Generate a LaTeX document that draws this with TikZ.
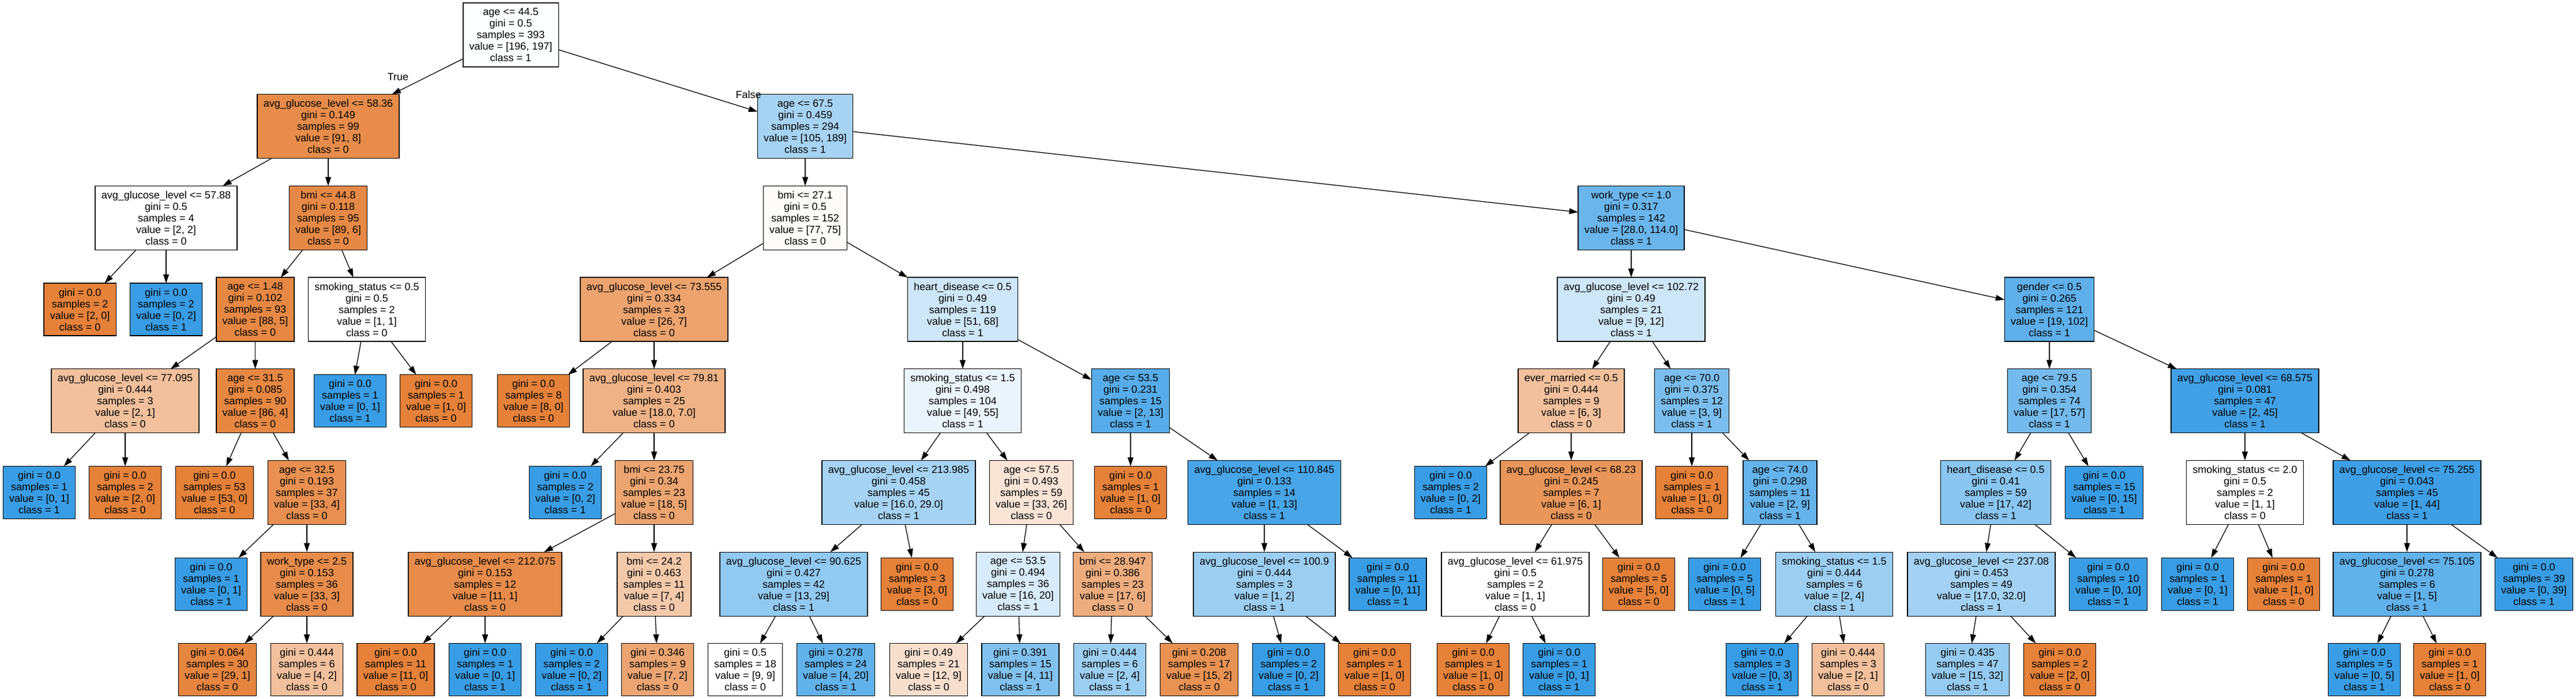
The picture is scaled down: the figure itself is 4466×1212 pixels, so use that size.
\documentclass[tikz,border=0pt]{standalone}
\usepackage{fontspec}
\setmainfont{Liberation Sans}
\usetikzlibrary{arrows.meta}
\definecolor{cz}{RGB}{229,129,57}
\definecolor{co}{RGB}{57,157,229}
\newcommand\AGL{avg\_glucose\_level}
\newcommand\splitT[5]{#1\\gini = #2\\samples = #3\\value = [#4]\\class = #5}
\newcommand\leafT[4]{gini = #1\\samples = #2\\value = [#3]\\class = #4}
\begin{document}
\begin{tikzpicture}[x=1pt,y=-1pt,
  nd/.style={draw=black, line width=1.3pt, rectangle, align=center, inner xsep=10.85pt, inner ysep=0pt, outer sep=0pt, font=\fontsize{18}{20}\selectfont, execute at begin node={\rule{0pt}{16.5pt}}},
  inode/.style={nd, minimum height=111pt},
  lnode/.style={nd, minimum height=91pt},
  edge/.style={-{Triangle[length=15.5pt,width=10pt]}, line width=1.3pt},
  elabel/.style={font=\fontsize{18}{20}\selectfont, inner sep=0pt}]
\useasboundingbox[fill=white] (0,0) rectangle (4466,1212);
% level 0
\node[inode, fill=co!0.5!white] (r) at (885.5,60.5) {\splitT{age <= 44.5}{0.5}{393}{196, 197}{1}};
% level 1
\node[inode, fill=cz!91.2!white] (a) at (569,219.2) {\splitT{\AGL{} <= 58.36}{0.149}{99}{91, 8}{0}};
\node[inode, fill=co!44.4!white] (b) at (1396,219.2) {\splitT{age <= 67.5}{0.459}{294}{105, 189}{1}};
% level 2
\node[inode, fill=white] (a1) at (288,377.9) {\splitT{\AGL{} <= 57.88}{0.5}{4}{2, 2}{0}};
\node[inode, fill=cz!93.3!white] (a2) at (569,377.9) {\splitT{bmi <= 44.8}{0.118}{95}{89, 6}{0}};
\node[inode, fill=cz!2.6!white] (b1) at (1396,377.9) {\splitT{bmi <= 27.1}{0.5}{152}{77, 75}{0}};
\node[inode, fill=co!75.4!white] (b2) at (2828,377.9) {\splitT{work\_type <= 1.0}{0.317}{142}{28.0, 114.0}{1}};
% level 3
\node[lnode, fill=cz] (a11) at (138.6,536.6) {\leafT{0.0}{2}{2, 0}{0}};
\node[lnode, fill=co] (a12) at (288,536.6) {\leafT{0.0}{2}{0, 2}{1}};
\node[inode, fill=cz!94.3!white] (a21) at (442.5,536.6) {\splitT{age <= 1.48}{0.102}{93}{88, 5}{0}};
\node[inode, fill=white] (a22) at (636,536.6) {\splitT{smoking\_status <= 0.5}{0.5}{2}{1, 1}{0}};
\node[inode, fill=cz!73.1!white] (b11) at (1134,536.6) {\splitT{\AGL{} <= 73.555}{0.334}{33}{26, 7}{0}};
\node[inode, fill=co!25!white] (b12) at (1669,536.6) {\splitT{heart\_disease <= 0.5}{0.49}{119}{51, 68}{1}};
\node[inode, fill=co!25!white] (b21) at (2828,536.6) {\splitT{\AGL{} <= 102.72}{0.49}{21}{9, 12}{1}};
\node[inode, fill=co!81.4!white] (b22) at (3553,536.6) {\splitT{gender <= 0.5}{0.265}{121}{19, 102}{1}};
% level 4
\node[inode, fill=cz!50!white] (a211) at (217,695.3) {\splitT{\AGL{} <= 77.095}{0.444}{3}{2, 1}{0}};
\node[inode, fill=cz!95.3!white] (a212) at (442.5,695.3) {\splitT{age <= 31.5}{0.085}{90}{86, 4}{0}};
\node[lnode, fill=co] (a221) at (607,695.3) {\leafT{0.0}{1}{0, 1}{1}};
\node[lnode, fill=cz] (a222) at (756,695.3) {\leafT{0.0}{1}{1, 0}{0}};
\node[lnode, fill=cz] (b111) at (925,695.3) {\leafT{0.0}{8}{8, 0}{0}};
\node[inode, fill=cz!61.1!white] (b112) at (1134,695.3) {\splitT{\AGL{} <= 79.81}{0.403}{25}{18.0, 7.0}{0}};
\node[inode, fill=co!10.9!white] (b121) at (1669,695.3) {\splitT{smoking\_status <= 1.5}{0.498}{104}{49, 55}{1}};
\node[inode, fill=co!84.6!white] (b122) at (1960,695.3) {\splitT{age <= 53.5}{0.231}{15}{2, 13}{1}};
\node[inode, fill=cz!50!white] (b211) at (2724,695.3) {\splitT{ever\_married <= 0.5}{0.444}{9}{6, 3}{0}};
\node[inode, fill=co!66.7!white] (b212) at (2933,695.3) {\splitT{age <= 70.0}{0.375}{12}{3, 9}{1}};
\node[inode, fill=co!70.2!white] (b221) at (3553,695.3) {\splitT{age <= 79.5}{0.354}{74}{17, 57}{1}};
\node[inode, fill=co!95.6!white] (b222) at (3892,695.3) {\splitT{\AGL{} <= 68.575}{0.081}{47}{2, 45}{1}};
% level 5
\node[lnode, fill=co] (c1) at (68,854) {\leafT{0.0}{1}{0, 1}{1}};
\node[lnode, fill=cz] (c2) at (217,854) {\leafT{0.0}{2}{2, 0}{0}};
\node[lnode, fill=cz] (c3) at (372,854) {\leafT{0.0}{53}{53, 0}{0}};
\node[inode, fill=cz!87.9!white] (c4) at (532,854) {\splitT{age <= 32.5}{0.193}{37}{33, 4}{0}};
\node[lnode, fill=co] (c5) at (980,854) {\leafT{0.0}{2}{0, 2}{1}};
\node[inode, fill=cz!72.2!white] (c6) at (1134,854) {\splitT{bmi <= 23.75}{0.34}{23}{18, 5}{0}};
\node[inode, fill=co!44.8!white] (c7) at (1558,854) {\splitT{\AGL{} <= 213.985}{0.458}{45}{16.0, 29.0}{1}};
\node[inode, fill=cz!21.2!white] (c8) at (1788,854) {\splitT{age <= 57.5}{0.493}{59}{33, 26}{0}};
\node[lnode, fill=cz] (c9) at (1960,854) {\leafT{0.0}{1}{1, 0}{0}};
\node[inode, fill=co!92.3!white] (c10) at (2192,854) {\splitT{\AGL{} <= 110.845}{0.133}{14}{1, 13}{1}};
\node[lnode, fill=co] (c11) at (2515,854) {\leafT{0.0}{2}{0, 2}{1}};
\node[inode, fill=cz!83.3!white] (c12) at (2724,854) {\splitT{\AGL{} <= 68.23}{0.245}{7}{6, 1}{0}};
\node[lnode, fill=cz] (c13) at (2933,854) {\leafT{0.0}{1}{1, 0}{0}};
\node[inode, fill=co!77.8!white] (c14) at (3086,854) {\splitT{age <= 74.0}{0.298}{11}{2, 9}{1}};
\node[inode, fill=co!59.5!white] (c15) at (3460,854) {\splitT{heart\_disease <= 0.5}{0.41}{59}{17, 42}{1}};
\node[lnode, fill=co] (c16) at (3648,854) {\leafT{0.0}{15}{0, 15}{1}};
\node[inode, fill=white] (c17) at (3892,854) {\splitT{smoking\_status <= 2.0}{0.5}{2}{1, 1}{0}};
\node[inode, fill=co!97.7!white] (c18) at (4173,854) {\splitT{\AGL{} <= 75.255}{0.043}{45}{1, 44}{1}};
% level 6
\node[lnode, fill=co] (d1) at (366,1012.7) {\leafT{0.0}{1}{0, 1}{1}};
\node[inode, fill=cz!90.9!white] (d2) at (532,1012.7) {\splitT{work\_type <= 2.5}{0.153}{36}{33, 3}{0}};
\node[inode, fill=cz!90.9!white] (d3) at (841,1012.7) {\splitT{\AGL{} <= 212.075}{0.153}{12}{11, 1}{0}};
\node[inode, fill=cz!42.9!white] (d4) at (1134,1012.7) {\splitT{bmi <= 24.2}{0.463}{11}{7, 4}{0}};
\node[inode, fill=co!55.2!white] (d5) at (1376,1012.7) {\splitT{\AGL{} <= 90.625}{0.427}{42}{13, 29}{1}};
\node[lnode, fill=cz] (d6) at (1590,1012.7) {\leafT{0.0}{3}{3, 0}{0}};
\node[inode, fill=co!20!white] (d7) at (1765,1012.7) {\splitT{age <= 53.5}{0.494}{36}{16, 20}{1}};
\node[inode, fill=cz!64.7!white] (d8) at (1929,1012.7) {\splitT{bmi <= 28.947}{0.386}{23}{17, 6}{0}};
\node[inode, fill=co!50!white] (d9) at (2192,1012.7) {\splitT{\AGL{} <= 100.9}{0.444}{3}{1, 2}{1}};
\node[lnode, fill=co] (d10) at (2406,1012.7) {\leafT{0.0}{11}{0, 11}{1}};
\node[inode, fill=white] (d11) at (2627,1012.7) {\splitT{\AGL{} <= 61.975}{0.5}{2}{1, 1}{0}};
\node[lnode, fill=cz] (d12) at (2841,1012.7) {\leafT{0.0}{5}{5, 0}{0}};
\node[lnode, fill=co] (d13) at (2990,1012.7) {\leafT{0.0}{5}{0, 5}{1}};
\node[inode, fill=co!50!white] (d14) at (3180,1012.7) {\splitT{smoking\_status <= 1.5}{0.444}{6}{2, 4}{1}};
\node[inode, fill=co!46.9!white] (d15) at (3435,1012.7) {\splitT{\AGL{} <= 237.08}{0.453}{49}{17.0, 32.0}{1}};
\node[lnode, fill=co] (d16) at (3655,1012.7) {\leafT{0.0}{10}{0, 10}{1}};
\node[lnode, fill=co] (d17) at (3810,1012.7) {\leafT{0.0}{1}{0, 1}{1}};
\node[lnode, fill=cz] (d18) at (3959,1012.7) {\leafT{0.0}{1}{1, 0}{0}};
\node[inode, fill=co!80!white] (d19) at (4173,1012.7) {\splitT{\AGL{} <= 75.105}{0.278}{6}{1, 5}{1}};
\node[lnode, fill=co] (d20) at (4393,1012.7) {\leafT{0.0}{39}{0, 39}{1}};
% level 7
\node[lnode, fill=cz!96.6!white] (e1) at (377,1161) {\leafT{0.064}{30}{29, 1}{0}};
\node[lnode, fill=cz!50!white] (e2) at (532,1161) {\leafT{0.444}{6}{4, 2}{0}};
\node[lnode, fill=cz] (e3) at (686,1161) {\leafT{0.0}{11}{11, 0}{0}};
\node[lnode, fill=co] (e4) at (841,1161) {\leafT{0.0}{1}{0, 1}{1}};
\node[lnode, fill=co] (e5) at (991,1161) {\leafT{0.0}{2}{0, 2}{1}};
\node[lnode, fill=cz!71.4!white] (e6) at (1140,1161) {\leafT{0.346}{9}{7, 2}{0}};
\node[lnode, fill=white] (e7) at (1292,1161) {\leafT{0.5}{18}{9, 9}{0}};
\node[lnode, fill=co!80!white] (e8) at (1449,1161) {\leafT{0.278}{24}{4, 20}{1}};
\node[lnode, fill=cz!25!white] (e9) at (1610,1161) {\leafT{0.49}{21}{12, 9}{0}};
\node[lnode, fill=co!63.6!white] (e10) at (1769,1161) {\leafT{0.391}{15}{4, 11}{1}};
\node[lnode, fill=co!50!white] (e11) at (1924,1161) {\leafT{0.444}{6}{2, 4}{1}};
\node[lnode, fill=cz!86.7!white] (e12) at (2079,1161) {\leafT{0.208}{17}{15, 2}{0}};
\node[lnode, fill=co] (e13) at (2234,1161) {\leafT{0.0}{2}{0, 2}{1}};
\node[lnode, fill=cz] (e14) at (2383,1161) {\leafT{0.0}{1}{1, 0}{0}};
\node[lnode, fill=cz] (e15) at (2554,1161) {\leafT{0.0}{1}{1, 0}{0}};
\node[lnode, fill=co] (e16) at (2703,1161) {\leafT{0.0}{1}{0, 1}{1}};
\node[lnode, fill=co] (e17) at (3055,1161) {\leafT{0.0}{3}{0, 3}{1}};
\node[lnode, fill=cz!50!white] (e18) at (3204,1161) {\leafT{0.444}{3}{2, 1}{0}};
\node[lnode, fill=co!53.1!white] (e19) at (3411,1161) {\leafT{0.435}{47}{15, 32}{1}};
\node[lnode, fill=cz] (e20) at (3571,1161) {\leafT{0.0}{2}{2, 0}{0}};
\node[lnode, fill=co] (e21) at (4099,1161) {\leafT{0.0}{5}{0, 5}{1}};
\node[lnode, fill=cz] (e22) at (4247,1161) {\leafT{0.0}{1}{1, 0}{0}};
% edge labels
\node[elabel] (tl) at (690,133) {True};
\node[elabel] (fl) at (1297.5,164.5) {False};
% edges
\foreach \p/\c in {r/a, r/b, a/a1, a/a2, b/b1, b/b2,
  a1/a11, a1/a12, a2/a21, a2/a22, b1/b11, b1/b12, b2/b21, b2/b22,
  a21/a211, a21/a212, a22/a221, a22/a222, b11/b111, b11/b112, b12/b121, b12/b122,
  b21/b211, b21/b212, b22/b221, b22/b222,
  a211/c1, a211/c2, a212/c3, a212/c4, b112/c5, b112/c6, b121/c7, b121/c8,
  b122/c9, b122/c10, b211/c11, b211/c12, b212/c13, b212/c14, b221/c15, b221/c16,
  b222/c17, b222/c18,
  c4/d1, c4/d2, c6/d3, c6/d4, c7/d5, c7/d6, c8/d7, c8/d8, c10/d9, c10/d10,
  c12/d11, c12/d12, c14/d13, c14/d14, c15/d15, c15/d16, c17/d17, c17/d18, c18/d19, c18/d20,
  d2/e1, d2/e2, d3/e3, d3/e4, d4/e5, d4/e6, d5/e7, d5/e8, d7/e9, d7/e10, d8/e11, d8/e12,
  d9/e13, d9/e14, d11/e15, d11/e16, d14/e17, d14/e18, d15/e19, d15/e20, d19/e21, d19/e22}
  \draw[edge] (\p) -- (\c);
\end{tikzpicture}
\end{document}
